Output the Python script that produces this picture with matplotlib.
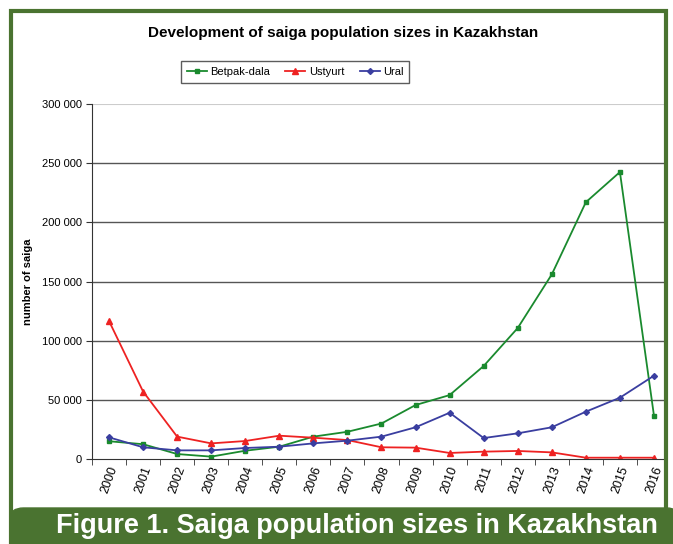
import matplotlib.pyplot as plt
import matplotlib.patches as mpatches
import numpy as np

years = list(range(2000, 2017))
betpak = [15000, 12500, 4200, 2000, 7000, 10400, 18900, 23000, 30000, 45600,
          54000, 78600, 110700, 156000, 217000, 242500, 36600]
ustyurt = [116600, 57000, 18900, 13200, 15200, 19700, 18000, 16000, 9900, 9600,
           5100, 6200, 6800, 5600, 1100, 1100, 1100]
ural = [18300, 9900, 7300, 7300, 9300, 10400, 13200, 15500, 18900, 26800,
        39100, 17700, 21700, 26800, 40000, 51800, 70400]
yticks = [0, 50000, 100000, 150000, 200000, 250000, 300000]

green_frame = '#4a7330'

fig = plt.figure(figsize=(6.73, 5.44), dpi=100)
plt.rcParams['font.family'] = ['Liberation Sans', 'DejaVu Sans']

ax = fig.add_axes([92/673, 1 - 459/544, (671-92)/673, (459-104)/544])
ax.plot(years, betpak, color='#1a8a2e', marker='s', markersize=3.5, lw=1.3, label='Betpak-dala')
ax.plot(years, ustyurt, color='#ee2222', marker='^', markersize=4, lw=1.3, label='Ustyurt')
ax.plot(years, ural, color='#3a3ea0', marker='D', markersize=3, lw=1.3, label='Ural')

ax.set_xlim(1999.5, 2016.5)
ax.set_ylim(0, 300000)
ax.set_yticks(yticks)
ax.set_yticklabels([f'{v:,}'.replace(',', ' ') for v in yticks], fontsize=8)
for v in yticks[1:-1]:
    ax.axhline(v, color='#555555', lw=1.0, zorder=0)
ax.axhline(300000, color='#cccccc', lw=1.5, zorder=0)
ax.set_xticks(years)
ax.set_xticks(np.arange(1999.5, 2017, 1), minor=True)
ax.set_xticklabels([str(y) for y in years], rotation=70, fontsize=9, ha='center', va='top')
ax.tick_params(axis='x', which='major', length=0, pad=4)
ax.tick_params(axis='x', which='minor', length=4, color='#333333')
ax.tick_params(axis='y', length=4, color='#333333')
for s in ['top', 'right']:
    ax.spines[s].set_visible(False)
ax.spines['left'].set_color('#333333')
ax.spines['bottom'].set_color('#333333')
ax.set_ylabel('number of saiga', fontsize=8, fontweight='bold', labelpad=6)

fig.text(0.51, 1 - 33/544, 'Development of saiga population sizes in Kazakhstan',
         ha='center', va='center', fontsize=11, fontweight='bold')
leg = ax.legend(loc='center', bbox_to_anchor=(295/673, 1 - 72/544), bbox_transform=fig.transFigure,
                ncol=3, fontsize=8, frameon=True, fancybox=False, edgecolor='#333333',
                handlelength=1.8, handletextpad=0.3, columnspacing=1.4, borderpad=0.5)
leg.get_frame().set_linewidth(1.0)

# green frame and banner
fig.patches.append(mpatches.Rectangle((11/673, 0), 655/673, 1 - 11/544, transform=fig.transFigure,
                                      fill=False, edgecolor=green_frame, lw=3, zorder=10))
fig.patches.append(mpatches.Rectangle((672/673 - 5/673, 0), 8/673, 1, transform=fig.transFigure,
                                      color='white', zorder=9))
fig.patches.append(mpatches.FancyBboxPatch((10/673, -0.05), 670/673, 0.05 + 36/544,
                                           boxstyle='round,pad=0,rounding_size=0.02',
                                           transform=fig.transFigure, color=green_frame, zorder=11))
fig.text(357/673, 18/544, 'Figure 1. Saiga population sizes in Kazakhstan', ha='center', va='center',
         fontsize=19.5, fontweight='bold', color='white', zorder=12)

fig.savefig('out.png', dpi=100)
